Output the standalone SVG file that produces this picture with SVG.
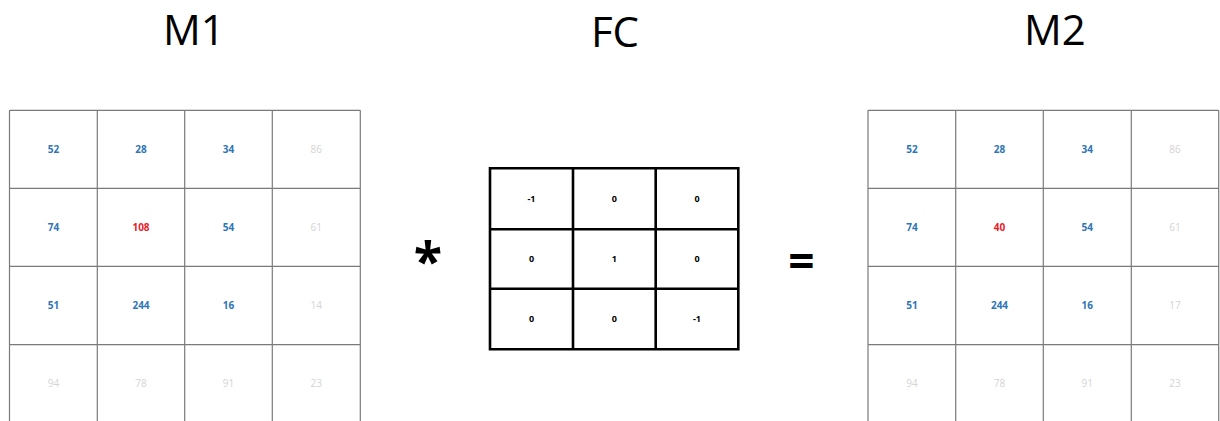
<svg xmlns="http://www.w3.org/2000/svg" width="1220" height="421" viewBox="0 0 1220 421">
<style>
.title{font-family:"Open Sans","Liberation Sans",sans-serif;font-size:42px;fill:#000;text-anchor:middle}
.op{font-family:"Open Sans","Liberation Sans",sans-serif;font-weight:bold;fill:#000;text-anchor:middle}
.grid{fill:none;stroke:#7a7a7a;stroke-width:1.2}
.fgrid{fill:none;stroke:#000;stroke-width:2.6}
.n{font-family:"Open Sans","Liberation Sans",sans-serif;font-size:10px;font-weight:bold;text-anchor:middle}
.b{fill:#2e75b6}
.r{fill:#e8202a}
.g{fill:#d4d4d4;font-weight:normal}
.k{font-family:"Open Sans","Liberation Sans",sans-serif;font-size:9px;font-weight:bold;text-anchor:middle;fill:#000}
</style>
<rect width="1220" height="421" fill="#fff"/>
<g id="titles">
<text class="title" x="194" y="45">M1</text>
<text class="title" x="615" y="47">FC</text>
<text class="title" x="1055" y="45">M2</text>
</g>
<g id="M1">
<path class="grid" d="M9.5 110.3H360.3M9.5 188.3H360.3M9.5 266.3H360.3M9.5 344.7H360.3M9.5 110.3V423M97.3 110.3V423M184.7 110.3V423M272.3 110.3V423M360.3 110.3V423"/>
<text class="n b" x="53.4" y="152.9">52</text>
<text class="n b" x="141" y="152.9">28</text>
<text class="n b" x="228.5" y="152.9">34</text>
<text class="n g" x="316.3" y="152.9">86</text>
<text class="n b" x="53.4" y="230.9">74</text>
<text class="n r" x="141" y="230.9">108</text>
<text class="n b" x="228.5" y="230.9">54</text>
<text class="n g" x="316.3" y="230.9">61</text>
<text class="n b" x="53.4" y="309.1">51</text>
<text class="n b" x="141" y="309.1">244</text>
<text class="n b" x="228.5" y="309.1">16</text>
<text class="n g" x="316.3" y="309.1">14</text>
<text class="n g" x="53.4" y="387.3">94</text>
<text class="n g" x="141" y="387.3">78</text>
<text class="n g" x="228.5" y="387.3">91</text>
<text class="n g" x="316.3" y="387.3">23</text>
</g>
<g id="op-multiply">
<text class="op" x="428" y="280" font-size="52">*</text>
</g>
<g id="FC">
<path class="fgrid" d="M490 168.3H738.3V349.3H490ZM573 168.3V349.3M655.7 168.3V349.3M490 229.3H738.3M490 288.7H738.3"/>
<text class="k" x="531.5" y="202">-1</text>
<text class="k" x="614.3" y="202">0</text>
<text class="k" x="697" y="202">0</text>
<text class="k" x="531.5" y="262.2">0</text>
<text class="k" x="614.3" y="262.2">1</text>
<text class="k" x="697" y="262.2">0</text>
<text class="k" x="531.5" y="322.2">0</text>
<text class="k" x="614.3" y="322.2">0</text>
<text class="k" x="697" y="322.2">-1</text>
</g>
<g id="op-equals">
<text class="op" x="801.5" y="278" font-size="46">=</text>
</g>
<g id="M2">
<path class="grid" d="M868 110.3H1218.7M868 188.3H1218.7M868 266.3H1218.7M868 344.7H1218.7M868 110.3V423M955.7 110.3V423M1043.3 110.3V423M1131.3 110.3V423M1218.7 110.3V423"/>
<text class="n b" x="911.9" y="152.9">52</text>
<text class="n b" x="999.5" y="152.9">28</text>
<text class="n b" x="1087.3" y="152.9">34</text>
<text class="n g" x="1175" y="152.9">86</text>
<text class="n b" x="911.9" y="230.9">74</text>
<text class="n r" x="999.5" y="230.9">40</text>
<text class="n b" x="1087.3" y="230.9">54</text>
<text class="n g" x="1175" y="230.9">61</text>
<text class="n b" x="911.9" y="309.1">51</text>
<text class="n b" x="999.5" y="309.1">244</text>
<text class="n b" x="1087.3" y="309.1">16</text>
<text class="n g" x="1175" y="309.1">17</text>
<text class="n g" x="911.9" y="387.3">94</text>
<text class="n g" x="999.5" y="387.3">78</text>
<text class="n g" x="1087.3" y="387.3">91</text>
<text class="n g" x="1175" y="387.3">23</text>
</g>
<g id="connectors"></g>
</svg>
